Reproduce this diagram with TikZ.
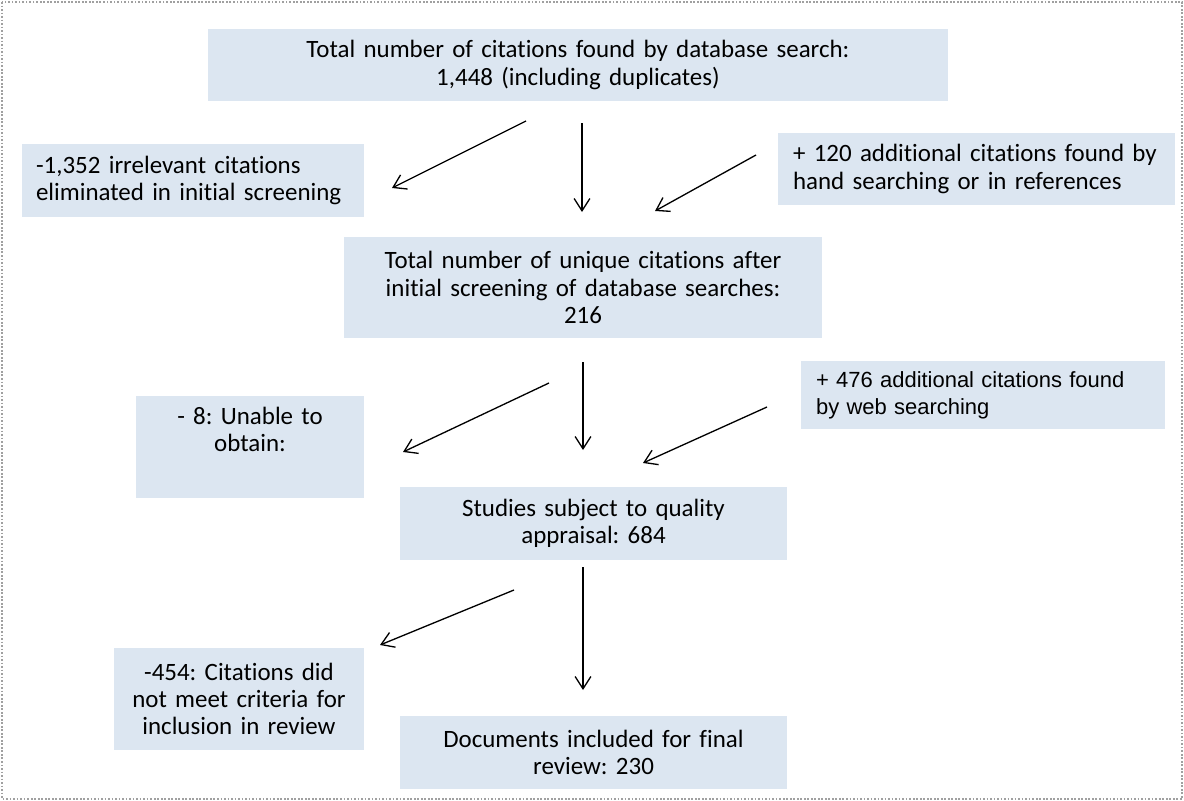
\documentclass[tikz,border=0pt]{standalone}
\usepackage{fontspec}
\setmainfont{Carlito}[Ligatures=NoCommon]
\newfontfamily\arialfont{Liberation Sans}
\usetikzlibrary{arrows.meta}
\definecolor{boxblue}{RGB}{220,230,241}
\definecolor{framegray}{RGB}{160,160,160}
\tikzstyle{Box}=[rectangle, fill=boxblue, inner xsep=0, inner ysep=0, text centered, font=\fontsize{14.2}{15.6}\selectfont]
\tikzstyle{SideBox}=[Box, inner xsep=0.3cm, align=left]
\tikzstyle{Flow}=[line width=0.75pt, -{Straight Barb[length=7pt,width=9pt]}]
\frenchspacing

\begin{document}
\begin{tikzpicture}[x=0.02cm, y=-0.02cm]
    \useasboundingbox (0,0) rectangle (1184,801);
    \draw[framegray, line width=0.6pt, dash pattern=on 1pt off 1pt] (2,2) rectangle (1182,799);

    \path
    (578,65) node[Box, text width=14.8cm, minimum height=1.44cm] (total) {Total number of citations found by database search:\\1,448 (including duplicates)}
    (193,180.5) node[SideBox, inner xsep=0.28cm, text width=6.28cm, minimum height=1.46cm] (irrelevant) {-1,352 irrelevant citations\\eliminated in initial screening}
    (976.5,169) node[SideBox, text width=7.34cm, minimum height=1.44cm] (handsearch) {+ 120 additional citations found by\\hand searching or in references}
    (583,287.5) node[Box, text width=9.56cm, minimum height=2.02cm] (unique) {Total number of unique citations after\\initial screening of database searches:\\216}
    (250,447) node[Box, text width=4.56cm, minimum height=2.04cm] (unable) {- 8: Unable to\\obtain:\\\strut}
    (983,395) node[SideBox, text width=6.68cm, minimum height=1.36cm, font=\arialfont\fontsize{12.5}{15.3}\selectfont] (websearch) {+ 476 additional citations found\\by web searching}
    (593.5,523.5) node[Box, text width=7.74cm, minimum height=1.46cm] (appraisal) {Studies subject to quality\\appraisal: 684}
    (239,699) node[Box, text width=5cm, minimum height=2.04cm] (excluded) {-454: Citations did\\not meet criteria for\\inclusion in review}
    (593.5,752.5) node[Box, text width=7.74cm, minimum height=1.46cm] (included) {Documents included for final\\review: 230};

    \path (526,121) coordinate (out1) (392,188) coordinate (in1)
    (582,123) coordinate (out2) (582,212) coordinate (in2)
    (756,155) coordinate (out3) (655,211) coordinate (in3)
    (549,383) coordinate (out4) (403,452) coordinate (in4)
    (583,362) coordinate (out5) (583,450) coordinate (in5)
    (767,407) coordinate (out6) (643,463) coordinate (in6)
    (514,590) coordinate (out7) (380,645) coordinate (in7)
    (583,567) coordinate (out8) (583,690) coordinate (in8);

    \draw[Flow] (out1) -- (in1);
    \draw[Flow] (out2) -- (in2);
    \draw[Flow] (out3) -- (in3);
    \draw[Flow] (out4) -- (in4);
    \draw[Flow] (out5) -- (in5);
    \draw[Flow] (out6) -- (in6);
    \draw[Flow] (out7) -- (in7);
    \draw[Flow] (out8) -- (in8);
\end{tikzpicture}
\end{document}
